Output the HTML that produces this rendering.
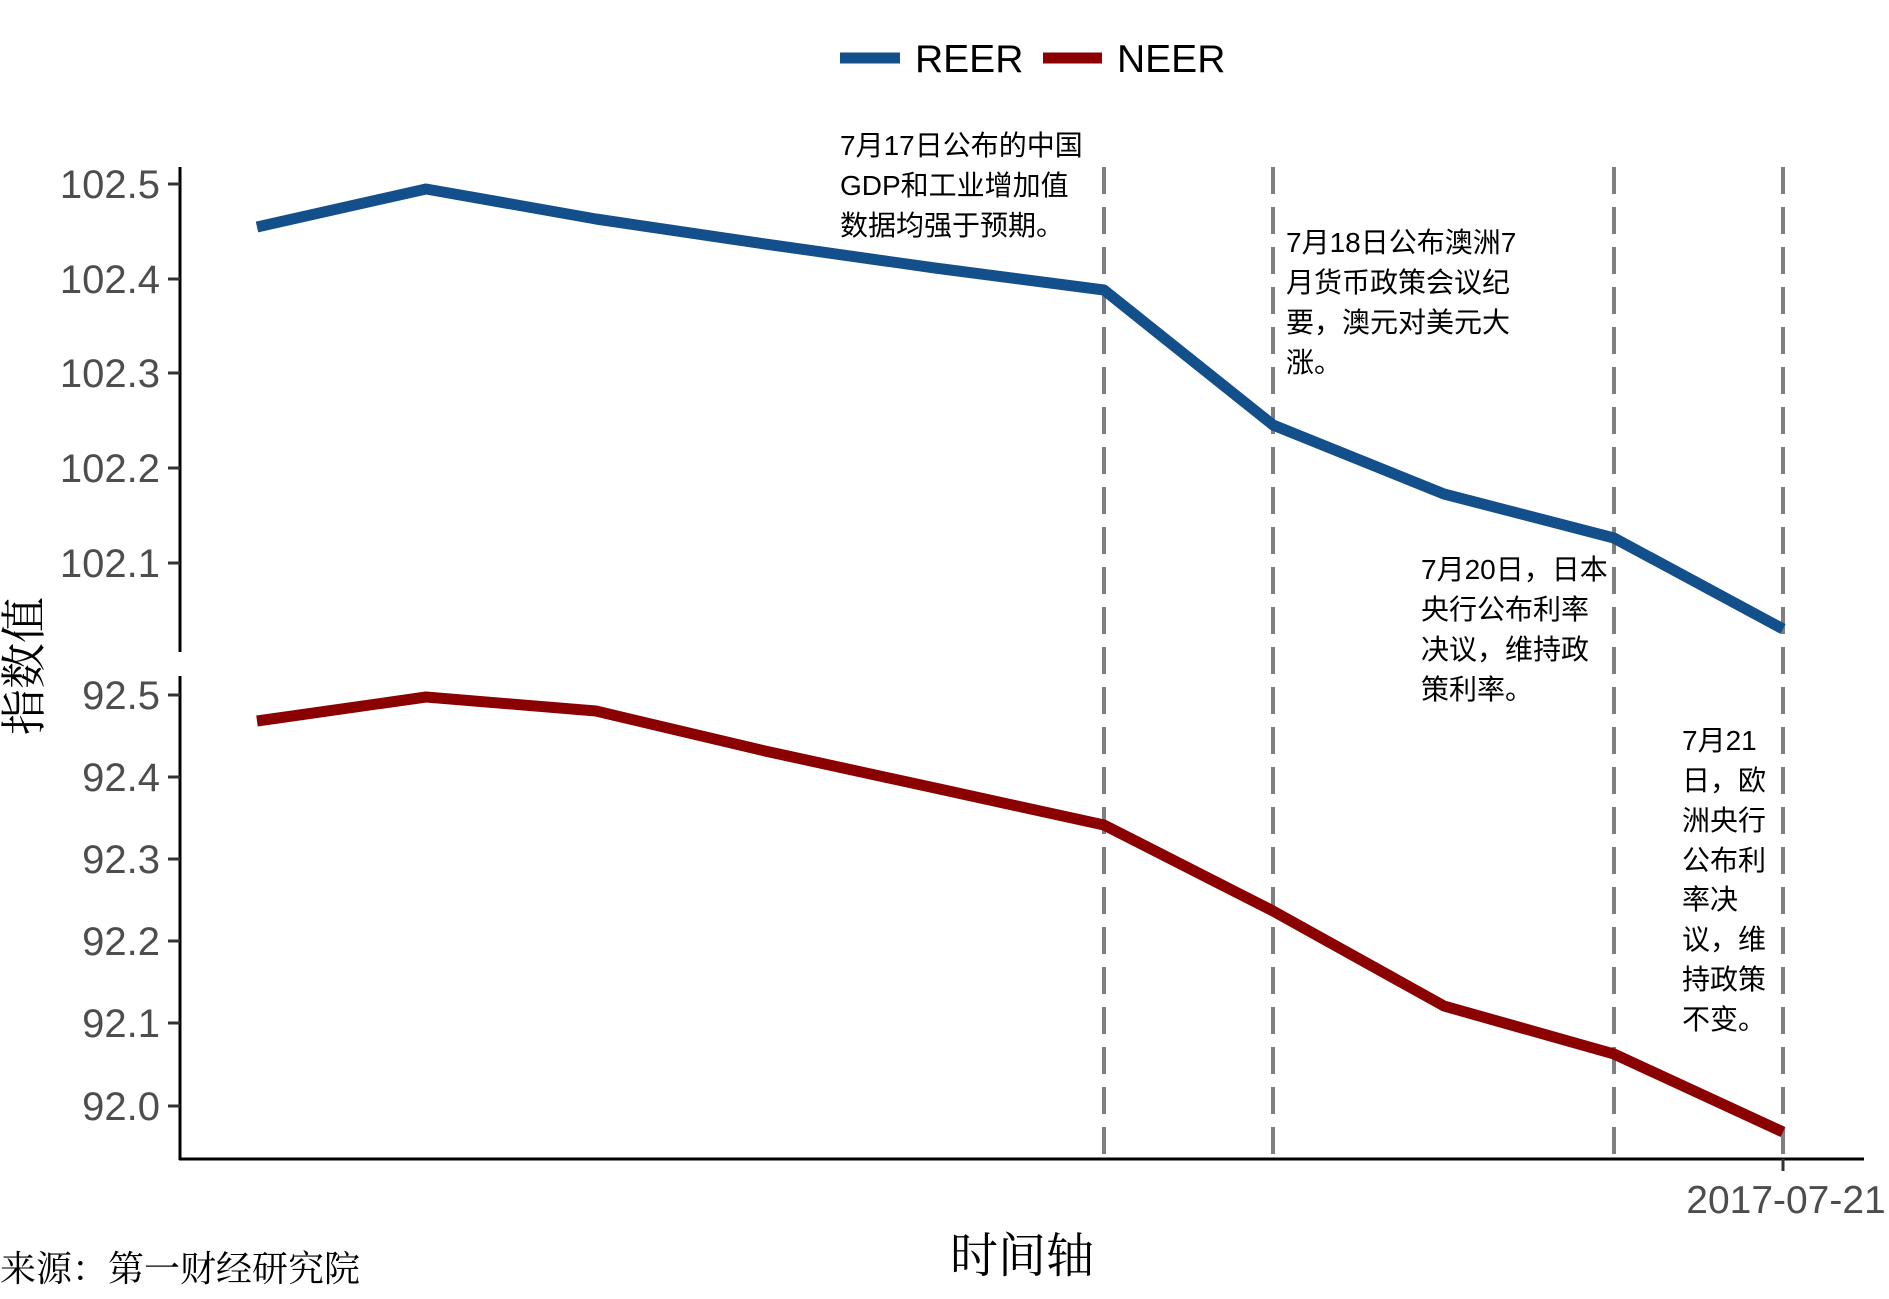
<!DOCTYPE html>
<html><head><meta charset="utf-8"><style>
html,body{margin:0;padding:0;background:#fff;}
svg{display:block;}
</style></head><body>
<svg width="1889" height="1299" viewBox="0 0 1889 1299" xmlns="http://www.w3.org/2000/svg">
<g font-family="'Liberation Sans','Noto Sans CJK SC',sans-serif">
<!-- legend -->
<line x1="840" y1="58" x2="900" y2="58" stroke="#134f8a" stroke-width="11"/>
<text x="915" y="72" font-size="39" fill="#000">REER</text>
<line x1="1043" y1="58" x2="1102" y2="58" stroke="#8b0000" stroke-width="11"/>
<text x="1117" y="72" font-size="39" fill="#000">NEER</text>

<!-- axes -->
<line x1="180" y1="167" x2="180" y2="652" stroke="#000" stroke-width="3"/>
<line x1="180" y1="676" x2="180" y2="1160" stroke="#000" stroke-width="3"/>
<line x1="179" y1="1159" x2="1864" y2="1159" stroke="#000" stroke-width="3"/>

<g stroke="#333" stroke-width="3">
<line x1="168" y1="184" x2="180" y2="184"/><line x1="168" y1="279" x2="180" y2="279"/>
<line x1="168" y1="373" x2="180" y2="373"/><line x1="168" y1="468" x2="180" y2="468"/>
<line x1="168" y1="563" x2="180" y2="563"/>
<line x1="168" y1="695" x2="180" y2="695"/><line x1="168" y1="777" x2="180" y2="777"/>
<line x1="168" y1="859" x2="180" y2="859"/><line x1="168" y1="941" x2="180" y2="941"/>
<line x1="168" y1="1023" x2="180" y2="1023"/><line x1="168" y1="1106" x2="180" y2="1106"/>
<line x1="1783" y1="1159" x2="1783" y2="1171"/>
</g>
<g font-size="40" fill="#4d4d4d" text-anchor="end">
<text x="160" y="198">102.5</text><text x="160" y="293">102.4</text>
<text x="160" y="387">102.3</text><text x="160" y="482">102.2</text>
<text x="160" y="577">102.1</text>
<text x="160" y="709">92.5</text><text x="160" y="791">92.4</text>
<text x="160" y="873">92.3</text><text x="160" y="955">92.2</text>
<text x="160" y="1037">92.1</text><text x="160" y="1120">92.0</text>
</g>
<text x="1786" y="1213" font-size="39" fill="#4d4d4d" text-anchor="middle">2017-07-21</text>

<!-- dashed lines -->
<g stroke="#7f7f7f" stroke-width="4" stroke-dasharray="27,13">
<line x1="1104" y1="167" x2="1104" y2="1159"/>
<line x1="1273" y1="167" x2="1273" y2="1159"/>
<line x1="1614" y1="167" x2="1614" y2="1159"/>
<line x1="1783" y1="167" x2="1783" y2="1159"/>
</g>

<!-- series -->
<polyline fill="none" stroke="#134f8a" stroke-width="11" stroke-linejoin="round"
points="257,227 426,189 596,219 765,244 935,268 1104,290 1273,425 1444,494 1614,538 1783,629"/>
<polyline fill="none" stroke="#8b0000" stroke-width="11" stroke-linejoin="round"
points="257,721 426,697 596,711 765,751 935,788 1104,825 1273,911 1444,1006 1614,1054 1783,1132"/>

<!-- annotations -->
<g font-size="28" fill="#000">
<text x="840" y="155">7月17日公布的中国</text>
<text x="840" y="195">GDP和工业增加值</text>
<text x="840" y="235">数据均强于预期。</text>
<text x="1286" y="252">7月18日公布澳洲7</text>
<text x="1286" y="292">月货币政策会议纪</text>
<text x="1286" y="332">要，澳元对美元大</text>
<text x="1286" y="372">涨。</text>
<text x="1421" y="579">7月20日，日本</text>
<text x="1421" y="619">央行公布利率</text>
<text x="1421" y="659">决议，维持政</text>
<text x="1421" y="699">策利率。</text>
<text x="1682" y="750">7月21</text>
<text x="1682" y="790">日，欧</text>
<text x="1682" y="830">洲央行</text>
<text x="1682" y="870">公布利</text>
<text x="1682" y="909">率决</text>
<text x="1682" y="949">议，维</text>
<text x="1682" y="989">持政策</text>
<text x="1682" y="1029">不变。</text>
</g>
</g>
<g font-family="'Liberation Serif','Noto Serif CJK SC',serif" fill="#000">
<text x="1022" y="1272" font-size="48" text-anchor="middle">时间轴</text>
<text transform="translate(40,666) rotate(-90)" font-size="46" text-anchor="middle">指数值</text>
<text x="0" y="1281" font-size="36">来源：第一财经研究院</text>
</g>
</svg>
</body></html>
